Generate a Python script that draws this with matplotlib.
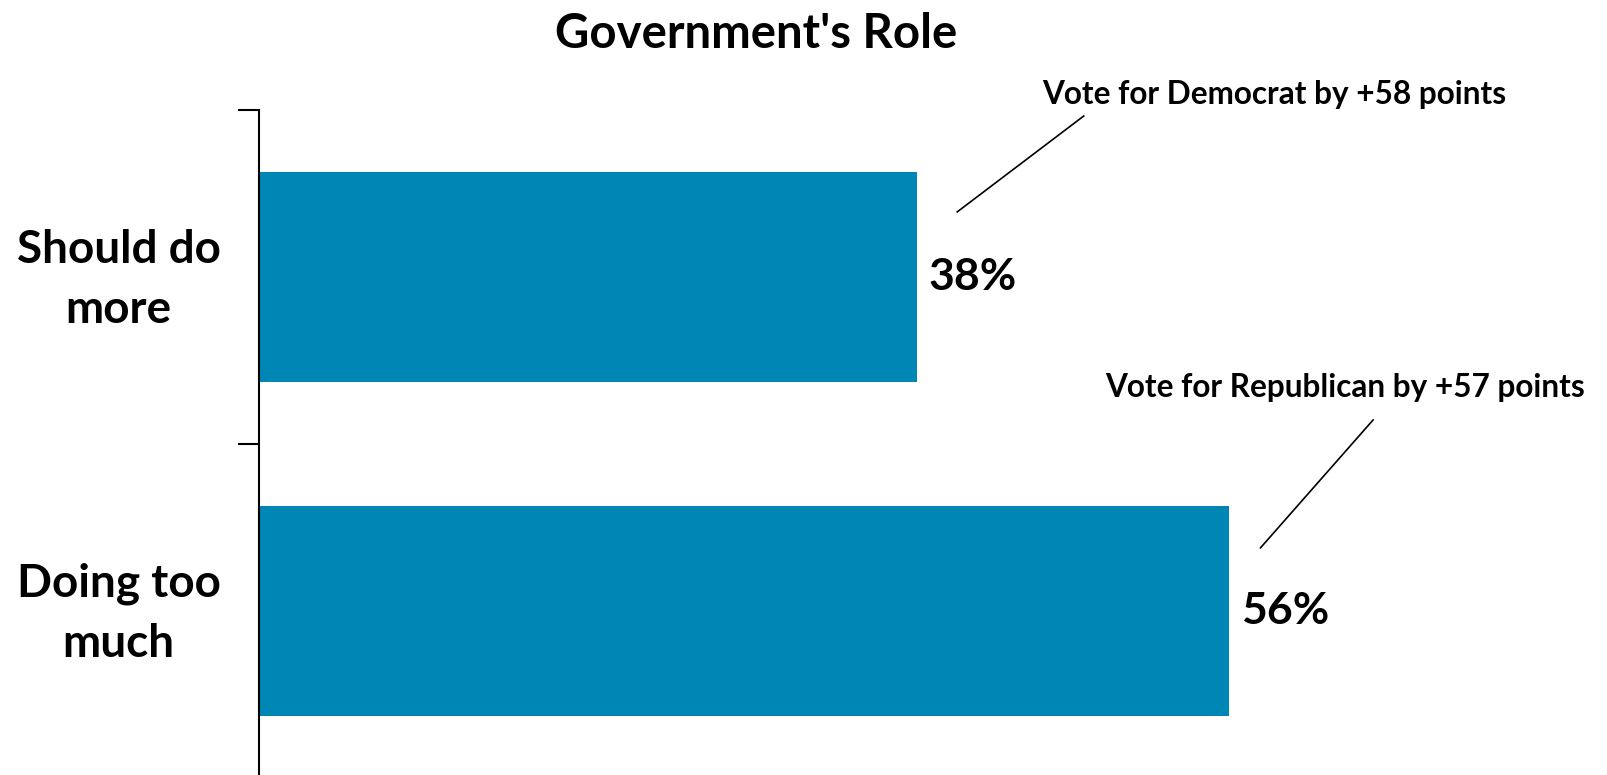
import matplotlib.pyplot as plt

plt.rcParams['font.family'] = ['Lato', 'DejaVu Sans']
plt.rcParams['font.weight'] = 'bold'

categories = ['Should do\nmore', 'Doing too\nmuch']
values = [38, 56]
notes = ['Vote for Democrat by +58 points', 'Vote for Republican by +57 points']

bar_color = '#0086B4'

fig = plt.figure(figsize=(16.07, 7.75), dpi=100)
ax = fig.add_axes([259 / 1607, -3 / 775, 1 - 259 / 1607, 668 / 775])

ypos = list(range(len(categories)))
ax.barh(ypos, values, height=0.63, color=bar_color)
ax.set_xlim(0, 77.8)
ax.set_ylim(1.5, -0.5)

# category labels without tick marks (nudged up a little so the
# two-line block sits centred on the bar); ticks mark the boundaries
ax.set_yticks([y - 0.03 for y in ypos])
ax.set_yticklabels(categories, fontsize=33, fontweight='bold', ha='center',
                   linespacing=1.52)
ax.tick_params(axis='y', which='major', length=0, pad=101)
ax.set_yticks([-0.5, 0.5, 1.5], minor=True)
ax.tick_params(axis='y', which='minor', length=15, width=1.5, direction='out')
ax.set_xticks([])

for side in ['top', 'right', 'bottom']:
    ax.spines[side].set_visible(False)
ax.spines['left'].set_linewidth(1.5)

for y, v in zip(ypos, values):
    ax.text(v + 0.65, y, f'{v}%', fontsize=32, fontweight='bold',
            va='center', ha='left')

# callout lines and notes: (line start, line end, text centre) relative to bar end
note_offsets = [((2.3, -0.195), (9.6, -0.482), (20.6, -0.545)),
                ((1.8, -0.189), (8.3, -0.572), (6.7, -0.668))]
for y, v, note, (p0, p1, pt) in zip(ypos, values, notes, note_offsets):
    ax.plot([v + p0[0], v + p1[0]], [y + p0[1], y + p1[1]],
            color='black', lw=1.2, clip_on=False)
    ax.text(v + pt[0], y + pt[1], note, fontsize=22.7, fontweight='bold',
            ha='center', va='center', clip_on=False)

fig.text(756 / 1607, 1 - 34 / 775, "Government's Role", fontsize=34,
         fontweight='bold', ha='center', va='center')

fig.savefig('out.png', dpi=100)
